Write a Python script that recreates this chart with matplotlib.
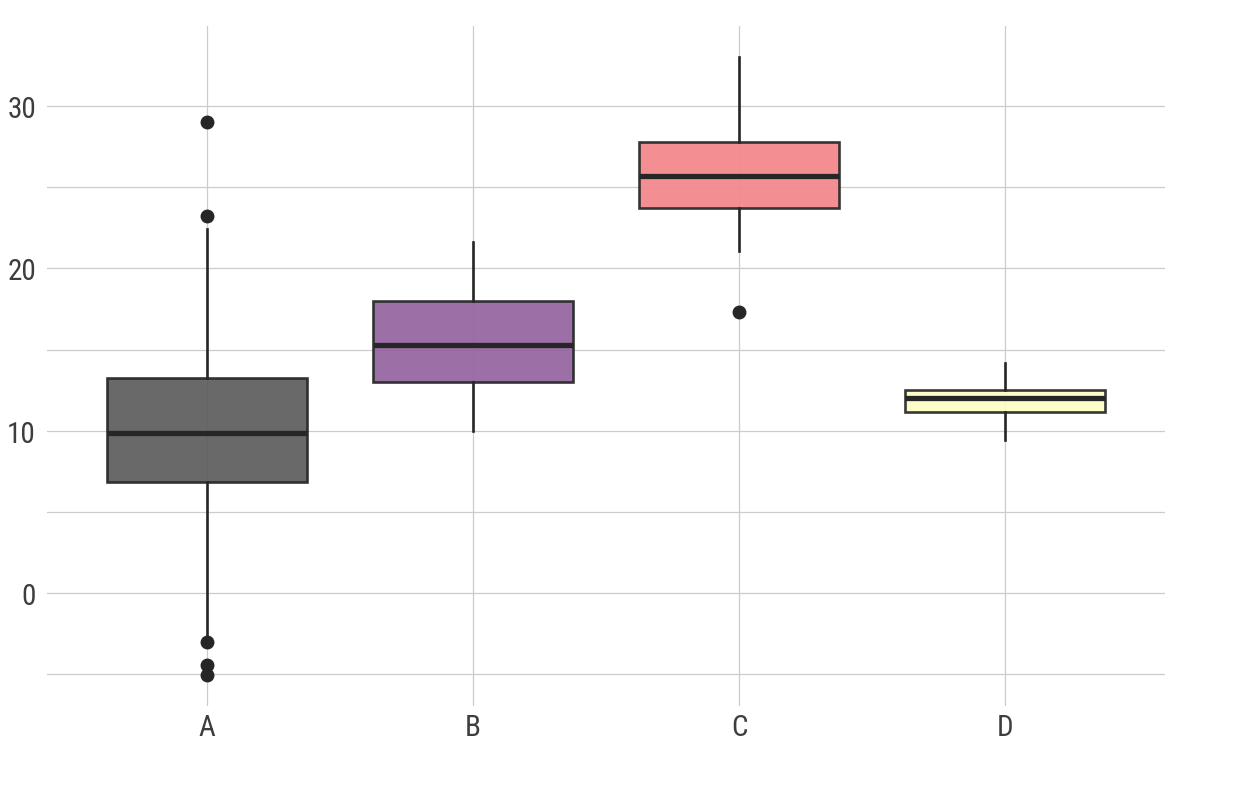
import matplotlib
matplotlib.use('Agg')
import matplotlib.pyplot as plt

# groups and their box summaries
groups = ['A', 'B', 'C', 'D']
q1 = [6.84, 13.0, 23.72, 11.15]
medians = [9.86, 15.28, 25.69, 12.01]
q3 = [13.25, 17.99, 27.79, 12.51]
whis_lo = [-2.7, 9.98, 21.07, 9.43]
whis_hi = [22.43, 21.63, 33.03, 14.17]
outliers = [[29.0, 23.25, -3.0, -4.44, -5.05], [], [17.31], []]
fills = ['#5c5c5c', '#9463a0', '#f2868a', '#fdfdc4']

plt.rcParams['font.family'] = ['Roboto Condensed', 'Roboto', 'DejaVu Sans']

fig = plt.figure(figsize=(12.45, 8.04), dpi=100)
ax = fig.add_axes([0.0378, 0.1206, 0.8979, 0.8458])

stats = []
for i, g in enumerate(groups):
    stats.append(dict(label=g, q1=q1[i], med=medians[i], q3=q3[i],
                      whislo=whis_lo[i], whishi=whis_hi[i], fliers=outliers[i]))

line_col = '#262626'
bp = ax.bxp(stats, positions=range(1, 5), widths=0.75, patch_artist=True,
            showcaps=False,
            boxprops=dict(edgecolor=line_col, linewidth=1.9),
            medianprops=dict(color=line_col, linewidth=3.8, solid_capstyle='butt'),
            whiskerprops=dict(color=line_col, linewidth=1.9),
            flierprops=dict(marker='o', markerfacecolor=line_col, markeredgecolor=line_col,
                            markersize=9))
for patch, c in zip(bp['boxes'], fills):
    patch.set_facecolor(c)
    patch.set_alpha(0.92)
    patch.set_edgecolor(line_col)

ax.set_xlim(0.4, 4.6)
ax.set_ylim(-6.95, 34.93)
ax.set_yticks([0, 10, 20, 30])
ax.set_yticks([-5, 5, 15, 25], minor=True)
ax.set_xticks(range(1, 5))
ax.set_xticklabels(groups)

ax.grid(True, which='both', color='#cccccc', linewidth=0.9)
ax.set_axisbelow(True)
for s in ax.spines.values():
    s.set_visible(False)
ax.tick_params(axis='both', which='both', length=0, labelsize=21, labelcolor='#3d3d3d')
ax.tick_params(axis='y', pad=8)
ax.tick_params(axis='x', pad=5)

fig.savefig('out.png', dpi=100, facecolor='white')
